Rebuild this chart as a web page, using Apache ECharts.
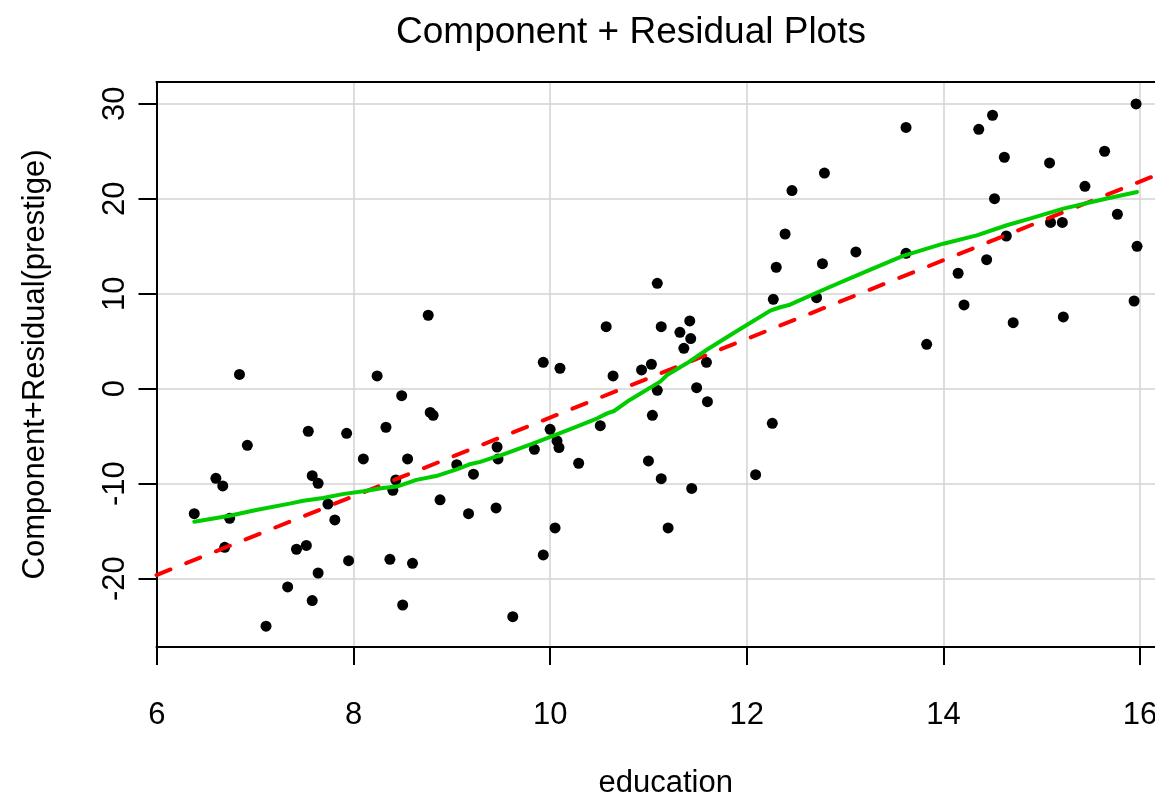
<!DOCTYPE html>
<html>
<head>
<meta charset="utf-8">
<script src="https://cdn.jsdelivr.net/npm/echarts@6/dist/echarts.min.js"></script>
<style>
html,body{margin:0;padding:0;background:#fff;}
#chart{width:1155px;height:798px;}
</style>
</head>
<body>
<div id="chart"></div>
<script>
// ---- data ----
const education = [
  6.38, 6.60, 6.67, 6.69, 6.74, 6.84, 6.92, 7.11, 7.33, 7.42,
  7.52, 7.54, 7.58, 7.58, 7.64, 7.64, 7.74, 7.81, 7.93, 7.95,
  8.10, 8.24, 8.33, 8.37, 8.40, 8.43, 8.49, 8.50, 8.55, 8.60,
  8.76, 8.78, 8.81, 8.88, 9.05, 9.17, 9.22, 9.45, 9.46, 9.47,
  9.62, 9.84, 9.93, 9.93, 10.00, 10.05, 10.07, 10.09, 10.10, 10.29,
  10.51, 10.57, 10.64, 10.93, 11.00, 11.03, 11.04, 11.09, 11.09, 11.13,
  11.13, 11.20, 11.32, 11.36, 11.42, 11.43, 11.44, 11.49, 11.59, 11.60,
  12.09, 12.26, 12.27, 12.30, 12.39, 12.46, 12.71, 12.77, 12.79, 13.11,
  13.62, 13.62, 13.83, 14.15, 14.21, 14.36, 14.44, 14.50, 14.52, 14.62,
  14.64, 14.71, 15.08, 15.09, 15.21, 15.22, 15.44, 15.64, 15.77, 15.94,
  15.96, 15.97
];
const compResid = [
  -13.16, -9.43, -10.24, -16.7, -13.64, 1.5, -5.96, -25.0, -20.87, -16.9,
  -16.5, -4.48, -9.16, -22.3, -9.96, -19.4, -12.14, -13.82, -4.7, -18.1,
  -7.4, 1.34, -4.06, -17.96, -10.7, -9.6, -0.74, -22.77, -7.4, -18.38,
  7.73, -2.5, -2.8, -11.7, -8.0, -13.16, -9.0, -12.55, -6.14, -7.4,
  -24.0, -6.38, 2.78, -17.5, -4.28, -14.66, -5.5, -6.2, 2.15, -7.85,
  -3.9, 6.53, 1.34, 1.97, -7.61, 2.57, -2.8, 11.09, -0.17, 6.53,
  -9.47, -14.66, 5.93, 4.25, 7.13, 5.27, -10.5, 0.11, 2.78, -1.37,
  -9.05, -3.65, 9.41, 12.78, 16.28, 20.85, 9.58, 13.16, 22.7, 14.39,
  27.5, 14.25, 4.67, 12.15, 8.81, 27.3, 13.58, 28.78, 20.0, 24.36,
  16.07, 6.95, 23.76, 17.5, 17.5, 7.55, 21.3, 24.99, 18.36, 9.23,
  29.97, 14.99
];
// smoother (green) read along its path
const smoothX = [6.38, 6.74, 7.01, 7.35, 7.49, 7.69, 7.89, 8.10, 8.30, 8.44,
  8.64, 8.84, 9.05, 9.18, 9.29, 9.45, 9.49, 9.83, 9.97, 10.27,
  10.48, 10.58, 10.65, 10.81, 11.12, 11.19, 11.39, 11.59, 11.83, 12.00,
  12.24, 12.34, 12.44, 12.75, 13.12, 13.59, 14.00, 14.34, 14.645, 14.88,
  15.22, 15.63, 15.97];
const smoothY = [-14.0, -13.37, -12.77, -12.1, -11.8, -11.5, -11.1, -10.8, -10.45, -10.3,
  -9.6, -9.2, -8.5, -7.96, -7.7, -7.15, -7.05, -5.75, -5.2, -4.0,
  -3.12, -2.6, -2.35, -1.19, 0.74, 1.44, 2.67, 4.07, 5.62, 6.7,
  8.22, 8.57, 8.84, 10.28, 11.93, 13.97, 15.26, 16.14, 17.2, 17.9,
  18.95, 19.94, 20.7];
// fitted regression line (red dashed): value at x = 6 and slope
const regAt6 = -19.6;
const regSlope = 4.14;
const xTicks = [6, 8, 10, 12, 14, 16];
const yTicks = [-20, -10, 0, 10, 20, 30];
const xRange = [5.996, 16.354];   // full plot region; its right part falls outside the picture
const yRange = [-27.19, 32.28];

// ---- build ----
const pts = education.map((x, i) => [x, compResid[i]]);
const smooth = smoothX.map((x, i) => [x, smoothY[i]]);
const reg = xRange.map(x => [x, regAt6 + regSlope * (x - 6)]);

const FONT = "'Liberation Sans', Arial, Helvetica, sans-serif";
const LBL = {fontFamily: FONT, fontSize: 31, color: '#000'};
const chart = echarts.init(document.getElementById('chart'), null, {renderer: 'canvas'});
chart.setOption({
  animation: false,
  backgroundColor: '#ffffff',
  title: {
    text: 'Component + Residual Plots',
    left: 626, top: 9, textAlign: 'center',
    textStyle: {fontFamily: FONT, fontSize: 37, fontWeight: 'normal', color: '#000'}
  },
  grid: {
    left: 156.5, top: 82, width: 1018.3, height: 565,
    show: false, containLabel: false, outerBoundsMode: 'none'
  },
  xAxis: [{
    type: 'value', min: xRange[0], max: xRange[1],
    position: 'bottom',
    name: 'education', nameLocation: 'middle', nameGap: 121,
    nameTextStyle: LBL,
    axisLine: {show: true, onZero: false, lineStyle: {color: '#000', width: 2}},
    axisTick: {show: true, length: 18, customValues: xTicks, lineStyle: {color: '#000', width: 2}},
    axisLabel: Object.assign({customValues: xTicks, margin: 53}, LBL),
    splitLine: {show: true, lineStyle: {color: '#d3d3d3', width: 1.5}}
  }, {
    type: 'value', min: xRange[0], max: xRange[1],
    position: 'top',
    axisLine: {show: true, onZero: false, lineStyle: {color: '#000', width: 2}},
    axisTick: {show: false}, axisLabel: {show: false}, splitLine: {show: false}
  }],
  yAxis: {
    type: 'value', min: yRange[0], max: yRange[1],
    name: 'Component+Residual(prestige)', nameLocation: 'middle', nameGap: 106, nameRotate: 90,
    nameTextStyle: LBL,
    axisLine: {show: true, onZero: false, lineStyle: {color: '#000', width: 2}},
    axisTick: {show: true, length: 18, customValues: yTicks, lineStyle: {color: '#000', width: 2}},
    axisLabel: Object.assign({customValues: yTicks, rotate: 90, margin: 26}, LBL),
    splitLine: {show: true, lineStyle: {color: '#d3d3d3', width: 1.5}}
  },
  series: [
    {
      type: 'scatter', data: pts, symbol: 'circle', symbolSize: 11,
      itemStyle: {color: '#000', opacity: 1}, z: 3
    },
    {
      type: 'line', data: reg, showSymbol: false, symbol: 'none', z: 4,
      lineStyle: {color: '#ff0000', width: 4, type: [15, 17], cap: 'round'}
    },
    {
      type: 'line', data: smooth, showSymbol: false, symbol: 'none', z: 5,
      lineStyle: {color: '#00cd00', width: 4, cap: 'round', join: 'round'}
    }
  ]
});
</script>
</body>
</html>
